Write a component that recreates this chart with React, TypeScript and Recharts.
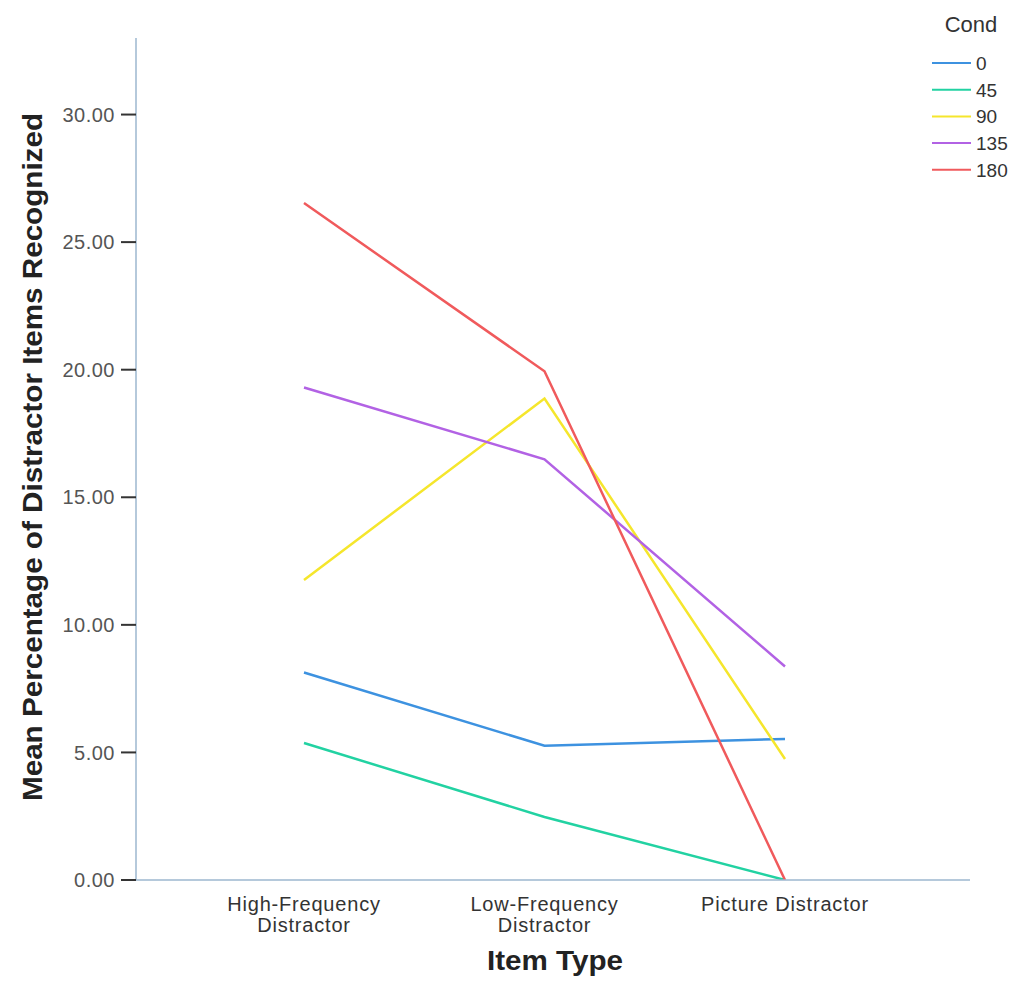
import React from 'react';
import { LineChart, Line, XAxis, YAxis, Legend, Label } from 'recharts';

// item types (x categories), each split into the lines shown under the axis
const tickLines = [
  ['High-Frequency', 'Distractor'],
  ['Low-Frequency', 'Distractor'],
  ['Picture Distractor'],
];
const categories = tickLines.map((l) => l.join(' '));

// mean % of distractor items recognized, per condition
const cond0 = [8.13, 5.26, 5.53];
const cond45 = [5.37, 2.47, 0];
const cond90 = [11.76, 18.87, 4.74];
const cond135 = [19.3, 16.49, 8.37];
const cond180 = [26.53, 19.94, 0];

const condNames = ['0', '45', '90', '135', '180'];
const condColors = ['#3d92e0', '#22d2a2', '#f5e62c', '#b262e4', '#f05a5c'];
const yTicks = [0, 5, 10, 15, 20, 25, 30];

const FONT = '"Liberation Sans", Arial, sans-serif';

const CatTick = (props: any) => {
  const { x, y, index } = props;
  const lines = tickLines[index] || [];
  return (
    <text x={x} y={y} textAnchor="middle" fontFamily={FONT} fontSize={20} letterSpacing={0.8} fill="#333">
      {lines.map((ln, i) => (
        <tspan key={i} x={x} dy={i === 0 ? 23 : 21}>
          {ln}
        </tspan>
      ))}
    </text>
  );
};

const CondLegend = (props: any) => {
  const payload = [...(props.payload || [])].sort(
    (a: any, b: any) => condNames.indexOf(String(a.value)) - condNames.indexOf(String(b.value))
  );
  return (
    <svg width={95} height={185} style={{ display: 'block' }}>
      <text x={46} y={32} textAnchor="middle" fontFamily={FONT} fontSize={22} fill="#333">
        Cond
      </text>
      {payload.map((p: any, i: number) => {
        const cy = 63 + i * 26.7;
        return (
          <g key={i}>
            <line x1={7} x2={46} y1={cy} y2={cy} stroke={p.color} strokeWidth={2} />
            <text x={51} y={cy + 7} fontFamily={FONT} fontSize={19} fill="#333">
              {p.value}
            </text>
          </g>
        );
      })}
    </svg>
  );
};

export default function App() {
  const series = [cond0, cond45, cond90, cond135, cond180];
  const data = categories.map((name, i) => {
    const row: any = { name };
    series.forEach((s, k) => {
      row['c' + condNames[k]] = s[i];
    });
    return row;
  });

  return (
    <div style={{ width: 1018, height: 981, background: '#fff' }}>
      <style>{'body{margin:0}'}</style>
      <LineChart
        width={1018}
        height={981}
        data={data}
        margin={{ top: 38, right: 48, bottom: 21, left: 76 }}
      >
        <XAxis
          dataKey="name"
          height={80}
          interval={0}
          padding={{ left: 168, right: 185 }}
          axisLine={{ stroke: '#9db7cf', strokeWidth: 1.5 }}
          tickLine={false}
          tick={<CatTick />}
        >
          <Label
            content={() => (
              <text
                x={555}
                y={970}
                textAnchor="middle"
                fontFamily={FONT}
                fontSize={27}
                fontWeight="bold"
                fill="#222"
                textLength={136}
                lengthAdjust="spacingAndGlyphs"
              >
                Item Type
              </text>
            )}
          />
        </XAxis>
        <YAxis
          width={60}
          type="number"
          domain={[0, 33]}
          ticks={yTicks}
          allowDataOverflow
          tickFormatter={(v: number) => v.toFixed(2)}
          axisLine={{ stroke: '#9db7cf', strokeWidth: 1.5 }}
          tickLine={{ stroke: '#333', strokeWidth: 2 }}
          tickSize={15}
          tickMargin={6}
          tick={{ fontFamily: FONT, fontSize: 20, fill: '#555', letterSpacing: 0.5 }}
        >
          <Label
            content={() => (
              <text
                x={42}
                y={457}
                transform="rotate(-90, 42, 457)"
                textAnchor="middle"
                fontFamily={FONT}
                fontSize={27}
                fontWeight="bold"
                fill="#222"
                textLength={688}
                lengthAdjust="spacingAndGlyphs"
              >
                Mean Percentage of Distractor Items Recognized
              </text>
            )}
          />
        </YAxis>
        <Legend
          layout="vertical"
          align="center"
          verticalAlign="middle"
          content={<CondLegend />}
          wrapperStyle={{ position: 'absolute', left: 925, top: 0, width: 95, height: 185 }}
        />
        {condNames.map((n, k) => (
          <Line
            key={n}
            type="linear"
            dataKey={'c' + n}
            name={n}
            stroke={condColors[k]}
            strokeWidth={2.5}
            dot={false}
            activeDot={false}
            isAnimationActive={false}
          />
        ))}
      </LineChart>
    </div>
  );
}
